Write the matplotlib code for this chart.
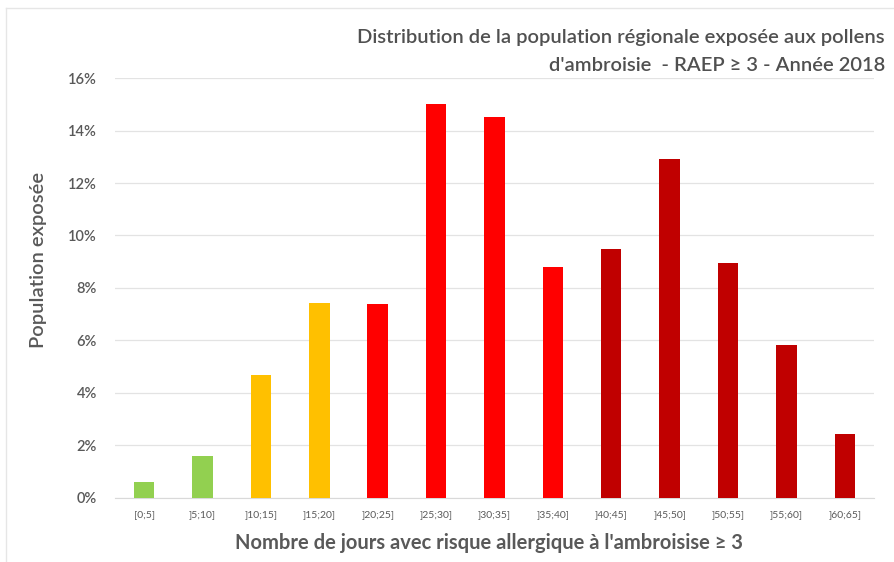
import matplotlib
matplotlib.use("Agg")
import matplotlib.pyplot as plt
from matplotlib.lines import Line2D

plt.rcParams['font.family'] = ['Lato', 'DejaVu Sans']

categories = ["[0;5]", "]5;10]", "]10;15]", "]15;20]", "]20;25]", "]25;30]", "]30;35]",
              "]35;40]", "]40;45]", "]45;50]", "]50;55]", "]55;60]", "]60;65]"]
values = [0.61, 1.6, 4.7, 7.43, 7.4, 15.0, 14.5, 8.8, 9.5, 12.9, 8.95, 5.83, 2.44]
colors = ["#92D050", "#92D050", "#FFC000", "#FFC000", "#FF0000", "#FF0000", "#FF0000",
          "#FF0000", "#C00000", "#C00000", "#C00000", "#C00000", "#C00000"]
yticks = [0, 2, 4, 6, 8, 10, 12, 14, 16]

text_color = "#595959"

fig = plt.figure(figsize=(8.94, 5.62), dpi=100)
ax = fig.add_axes([0.1286, 0.1139, 0.849, 0.7473])

x = range(len(categories))
ax.bar(x, values, width=0.35, color=colors, zorder=3)

ax.set_xlim(-0.5, len(categories) - 0.5)
ax.set_ylim(0, 16)
ax.set_yticks(yticks)
ax.set_yticklabels([f"{v}%" for v in yticks], fontsize=10.5, color=text_color,
                   fontweight="semibold")
ax.set_xticks(list(x))
ax.set_xticklabels(categories, fontsize=7.5, color=text_color)
ax.tick_params(axis="x", length=0, pad=9)
ax.tick_params(axis="y", length=0, pad=13)

ax.grid(axis="y", color="#E3E3E3", linewidth=0.9, zorder=0)
for s in ["top", "right", "left"]:
    ax.spines[s].set_visible(False)
ax.spines["bottom"].set_color("#D9D9D9")

ax.set_ylabel("Population exposée", fontsize=14.5, color=text_color, fontweight="semibold",
              va="center", ha="center")
ax.yaxis.set_label_coords(-0.101, 0.567)
ax.set_xlabel("Nombre de jours avec risque allergique à l'ambroisise ≥ 3", fontsize=14.5,
              color=text_color, fontweight="bold", va="center", ha="center")
ax.xaxis.set_label_coords(0.493, -0.107)

fig.text(0.99, 0.934, "Distribution de la population régionale exposée aux pollens",
         ha="right", va="center", fontsize=14.5, color="#505050", fontweight="semibold")
fig.text(0.99, 0.884, "d'ambroisie  - RAEP ≥ 3 - Année 2018",
         ha="right", va="center", fontsize=14.5, color="#505050", fontweight="semibold")

# light frame around the chart area
fig.add_artist(Line2D([6 / 894, 1], [1 - 8 / 562] * 2, color="#E6E6E6", linewidth=1.0))
fig.add_artist(Line2D([6 / 894] * 2, [0, 1 - 8 / 562], color="#E6E6E6", linewidth=1.0))

fig.savefig("out.png", dpi=100, facecolor="white")
